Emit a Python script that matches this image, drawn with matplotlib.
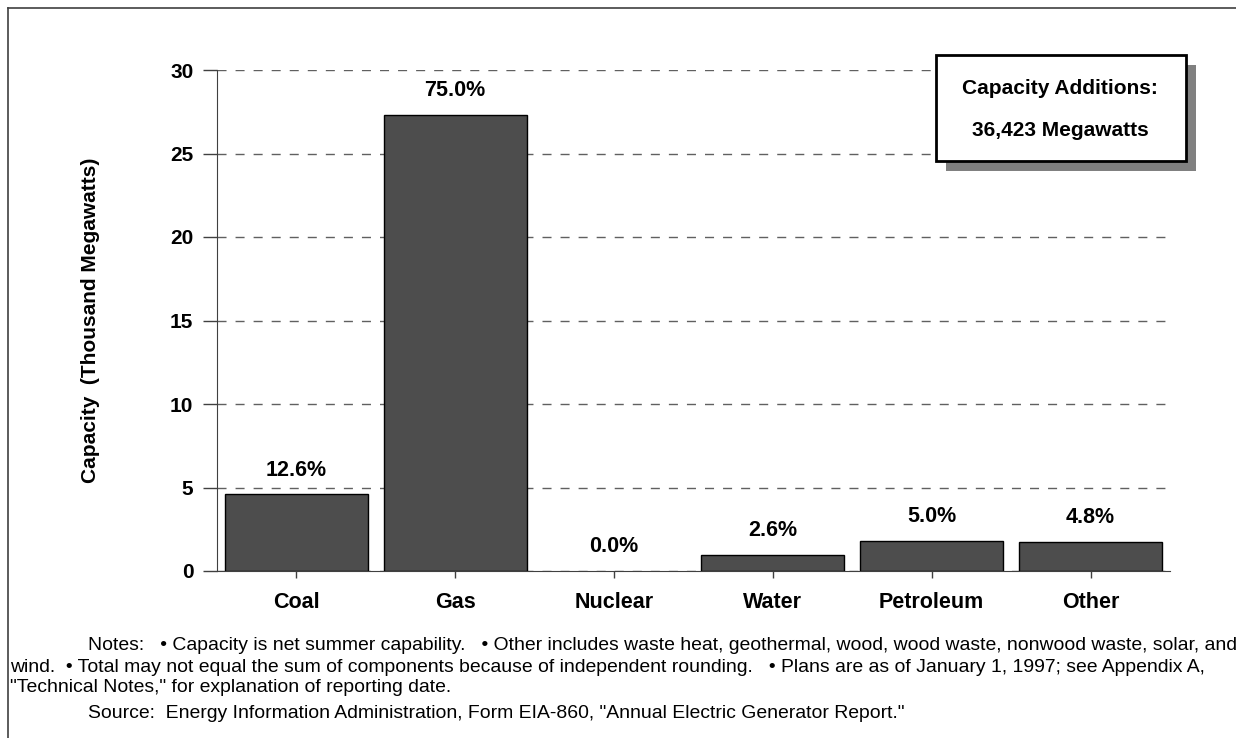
import matplotlib
matplotlib.use("Agg")
import matplotlib.pyplot as plt
from matplotlib.patches import Rectangle
from matplotlib.lines import Line2D

plt.rcParams["font.family"] = ["Liberation Sans", "DejaVu Sans"]

# Planned capacity additions by energy source
categories = ["Coal", "Gas", "Nuclear", "Water", "Petroleum", "Other"]
shares_pct = [12.6, 75.0, 0.0, 2.6, 5.0, 4.8]
total_mw = 36423
capacity_thousand_mw = [p / 100.0 * total_mw / 1000.0 for p in shares_pct]
y_ticks = [0, 5, 10, 15, 20, 25, 30]

notes_lines = [
    "Notes:   \u2022 Capacity is net summer capability.   \u2022 Other includes waste heat, geothermal, wood, wood waste, nonwood waste, solar, and",
    "wind.  \u2022 Total may not equal the sum of components because of independent rounding.   \u2022 Plans are as of January 1, 1997; see Appendix A,",
    "\"Technical Notes,\" for explanation of reporting date.",
]
source_line = "Source:  Energy Information Administration, Form EIA-860, \"Annual Electric Generator Report.\""

W, H = 1236, 738
fig = plt.figure(figsize=(W / 100, H / 100), dpi=100)
fig.patch.set_facecolor("white")


def fx(x):
    return x / W


def fy(y):
    return 1 - y / H


ax = fig.add_axes([fx(217), fy(571), fx(1170) - fx(217), fy(70) - fy(571)])
edge_widths = [1.0 if v > 0 else 0.0 for v in capacity_thousand_mw]
ax.bar(range(len(categories)), capacity_thousand_mw, width=0.9,
       color="#4d4d4d", edgecolor="black", linewidth=edge_widths, zorder=3)

ax.set_xlim(-0.5, len(categories) - 0.5)
ax.set_ylim(0, 30)
ax.set_yticks(y_ticks)
ax.set_xticks(range(len(categories)))
ax.set_xticklabels(categories)
ax.yaxis.grid(True, linestyle=(0, (6.5, 6.5)), color="#606060", linewidth=1.0, zorder=0)
ax.set_axisbelow(True)

for side in ("top", "right"):
    ax.spines[side].set_visible(False)
ax.spines["left"].set_color("#404040")
ax.spines["bottom"].set_color("#404040")
ax.tick_params(axis="y", direction="out", length=10, width=1.0, color="#404040", pad=7,
               labelsize=15)
ax.tick_params(axis="x", direction="out", length=5, width=1.0, color="#404040", pad=10,
               labelsize=15.5)
for lbl in ax.get_xticklabels() + ax.get_yticklabels():
    lbl.set_fontweight("bold")

ax.set_ylabel("Capacity  (Thousand Megawatts)", fontsize=15, fontweight="bold", va="center")
ax.yaxis.set_label_coords((90 - 217) / (1170 - 217), 0.5)

# Percentage share labels above each bar
for i, (v, p) in enumerate(zip(capacity_thousand_mw, shares_pct)):
    ax.annotate(f"{p:.1f}%", xy=(i, v), xytext=(0, 17.5), textcoords="offset points",
                ha="center", va="center", fontsize=15.5, fontweight="bold", zorder=4)

# Total-capacity callout with drop shadow
bx0, by0, bx1, by1 = 936, 55, 1186, 161
fig.patches.append(Rectangle((fx(bx0 + 10), fy(by1 + 10)), fx(bx1 - bx0), fy(by0) - fy(by1),
                             transform=fig.transFigure, facecolor="#808080",
                             edgecolor="none", zorder=5))
fig.patches.append(Rectangle((fx(bx0), fy(by1)), fx(bx1 - bx0), fy(by0) - fy(by1),
                             transform=fig.transFigure, facecolor="white",
                             edgecolor="black", linewidth=2.0, zorder=6))
fig.text(fx(1060), fy(89), "Capacity Additions:", ha="center", va="center",
         fontsize=15, fontweight="bold", zorder=7)
fig.text(fx(1060), fy(131), f"{total_mw:,} Megawatts", ha="center", va="center",
         fontsize=15, fontweight="bold", zorder=7)

# Page frame: left and top edges
fig.lines.append(Line2D([fx(8), fx(8)], [fy(8), 0], transform=fig.transFigure,
                        color="#404040", linewidth=1.2))
fig.lines.append(Line2D([fx(8), 1], [fy(8), fy(8)], transform=fig.transFigure,
                        color="#404040", linewidth=1.2))

# Footnotes, sized to span their lines
renderer = fig.canvas.get_renderer()


def fitted_text(x_left, y_center, text, target_width):
    t = fig.text(fx(x_left), fy(y_center), text, ha="left", va="center", fontsize=11)
    w = t.get_window_extent(renderer=renderer).width
    t.set_fontsize(11 * target_width / w)
    return t


note_size_ref = fitted_text(88, 646, notes_lines[0], 1140)
fs = note_size_ref.get_fontsize()
fig.text(fx(10), fy(667), notes_lines[1], ha="left", va="center", fontsize=fs)
fig.text(fx(10), fy(688), notes_lines[2], ha="left", va="center", fontsize=fs)
fig.text(fx(88), fy(714), source_line, ha="left", va="center", fontsize=fs)

fig.savefig("out.png", dpi=100)
